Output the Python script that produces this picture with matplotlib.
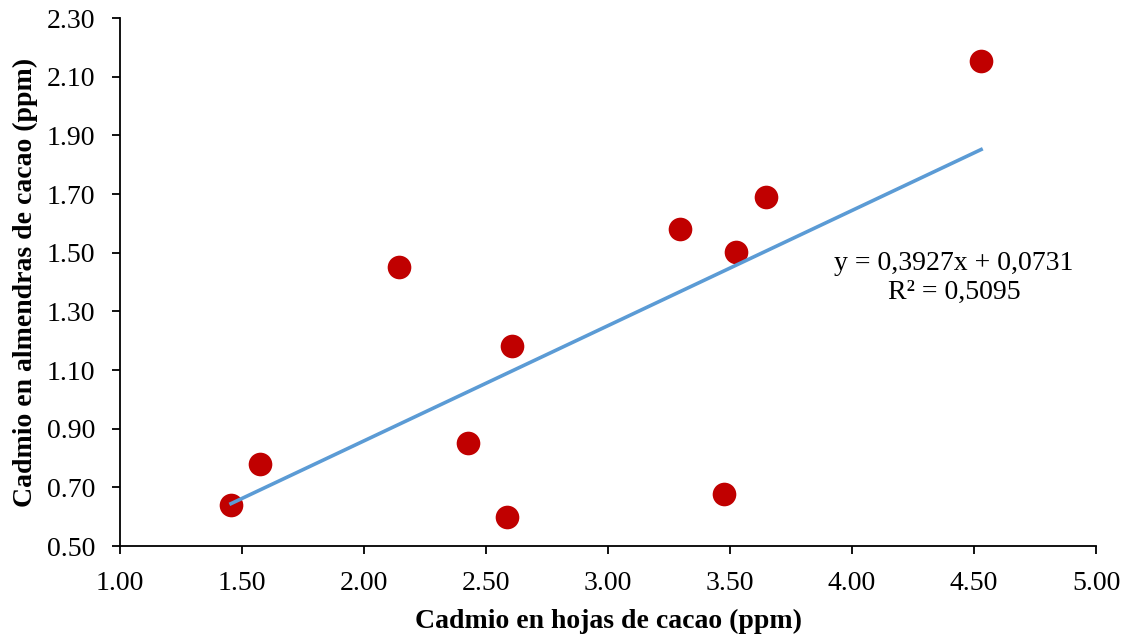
import matplotlib
matplotlib.use("Agg")
import matplotlib.pyplot as plt
import numpy as np

plt.rcParams['font.family'] = ['Liberation Serif', 'DejaVu Serif']

hojas = [1.455, 1.574, 2.143, 2.426, 2.586, 2.607, 3.295, 3.475, 3.525, 3.648, 4.529]
almendras = [0.64, 0.78, 1.451, 0.851, 0.599, 1.182, 1.581, 0.677, 1.502, 1.69, 2.154]
slope = 0.3927
intercept = 0.0731
eq_text = "y = 0,3927x + 0,0731\nR² = 0,5095"
xticks = [1.00, 1.50, 2.00, 2.50, 3.00, 3.50, 4.00, 4.50, 5.00]
yticks = [0.50, 0.70, 0.90, 1.10, 1.30, 1.50, 1.70, 1.90, 2.10, 2.30]

fig = plt.figure(figsize=(11.29, 6.34), dpi=100)
ax = fig.add_axes([0.1063, 0.1388, 0.8645, 0.8328])

ax.scatter(hojas, almendras, s=290, color='#C00000', zorder=3, linewidths=0)
xt = np.array([min(hojas), max(hojas)])
ax.plot(xt, slope * xt + intercept, color='#5B9BD5', lw=2.6, zorder=4)

ax.set_xlim(1.0, 5.0)
ax.set_ylim(0.5, 2.3)
ax.set_xticks(xticks)
ax.set_yticks(yticks)
ax.set_xticklabels([f"{v:.2f}" for v in xticks])
ax.set_yticklabels([f"{v:.2f}" for v in yticks])
ax.tick_params(direction='out', length=6, width=1.3, labelsize=20)
ax.tick_params(axis='x', pad=12)
ax.tick_params(axis='y', pad=12)
for s in ['top', 'right']:
    ax.spines[s].set_visible(False)
for s in ['left', 'bottom']:
    ax.spines[s].set_linewidth(1.3)

ax.set_xlabel("Cadmio en hojas de cacao (ppm)", fontsize=20, fontweight='bold', labelpad=9)
ax.set_ylabel("Cadmio en almendras de cacao (ppm)", fontsize=20, fontweight='bold', labelpad=6)

ax.text(4.418, 1.415, eq_text, ha='center', va='center', fontsize=20, linespacing=1.2)

fig.savefig("out.png", dpi=100)
